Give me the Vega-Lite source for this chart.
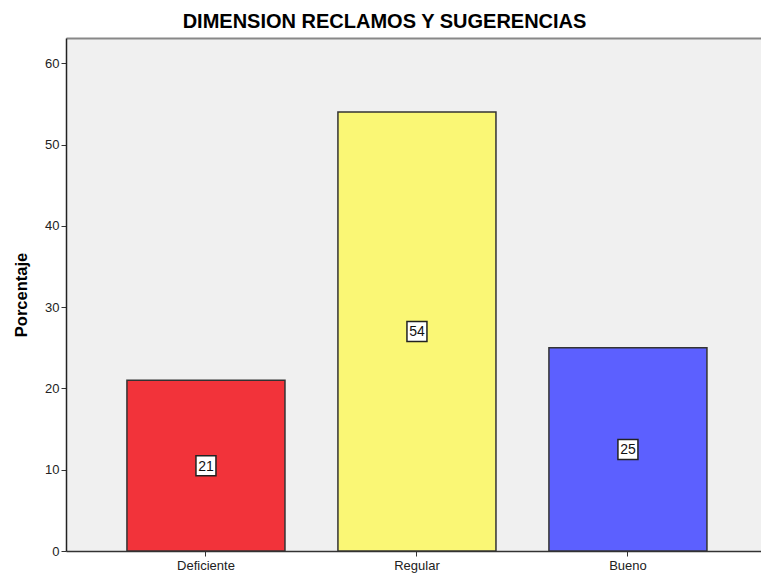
{
  "$schema": "https://vega.github.io/schema/vega-lite/v6.json",
  "autosize": {"type": "none"},
  "padding": {"left": 66, "top": 38, "right": 0, "bottom": 25},
  "width": 695,
  "height": 513,
  "background": "white",
  "config": {
    "view": {"stroke": null, "fill": "#F0F0F0"},
    "font": "Liberation Sans"
  },
  "title": {
    "text": "DIMENSION RECLAMOS Y SUGERENCIAS",
    "fontSize": 20,
    "fontWeight": "bold",
    "color": "#000000",
    "font": "Liberation Sans",
    "anchor": "middle",
    "dx": -29,
    "offset": 6
  },
  "data": {
    "values": [
      {"categoria": "Deficiente", "porcentaje": 21, "color": "#F2333A"},
      {"categoria": "Regular", "porcentaje": 54, "color": "#FAF775"},
      {"categoria": "Bueno", "porcentaje": 25, "color": "#5C60FF"}
    ]
  },
  "transform": [{"calculate": "datum.porcentaje / 2", "as": "mitad"}],
  "resolve": {"axis": {"x": "independent", "y": "independent"}},
  "layer": [
    {
      "mark": {"type": "bar", "stroke": "#333333", "strokeWidth": 1.5},
      "encoding": {
        "x": {
          "field": "categoria",
          "type": "nominal",
          "sort": null,
          "scale": {"paddingInner": 0.251, "paddingOuter": 0.2725, "align": 0.53},
          "axis": {
            "title": null,
            "labelAngle": 0,
            "labelFontSize": 13,
            "labelColor": "#222222",
            "labelPadding": 3,
            "tickColor": "#333333",
            "tickSize": 5,
            "domainColor": "#333333",
            "domainWidth": 1.5
          }
        },
        "y": {
          "field": "porcentaje",
          "type": "quantitative",
          "scale": {"domain": [0, 63.1], "nice": false},
          "axis": {
            "title": "Porcentaje",
            "titleFontSize": 16.5,
            "titleFontWeight": "bold",
            "titleColor": "#000000",
            "titlePadding": 15,
            "values": [0, 10, 20, 30, 40, 50, 60],
            "labelFontSize": 13,
            "labelColor": "#222222",
            "labelPadding": 2,
            "tickColor": "#333333",
            "tickSize": 5,
            "domainColor": "#222222",
            "domainWidth": 1.5,
            "grid": false
          }
        },
        "fill": {"field": "color", "type": "nominal", "scale": null}
      }
    },
    {
      "mark": {"type": "point", "shape": "square", "filled": true, "fill": "white", "stroke": "#222222", "strokeWidth": 1.5, "size": 400, "opacity": 1},
      "encoding": {
        "x": {"field": "categoria", "type": "nominal", "sort": null, "axis": null},
        "y": {"field": "mitad", "type": "quantitative", "axis": null}
      }
    },
    {
      "mark": {"type": "text", "fontSize": 14, "color": "#111111", "baseline": "middle", "dy": 1},
      "encoding": {
        "x": {"field": "categoria", "type": "nominal", "sort": null, "axis": null},
        "y": {"field": "mitad", "type": "quantitative", "axis": null},
        "text": {"field": "porcentaje", "type": "quantitative"}
      }
    },
    {
      "mark": {"type": "tick", "opacity": 0},
      "encoding": {
        "x": {
          "field": "categoria",
          "type": "nominal",
          "sort": null,
          "axis": {"orient": "top", "title": null, "labels": false, "ticks": false, "domainColor": "#888888", "domainWidth": 2}
        }
      }
    }
  ]
}
